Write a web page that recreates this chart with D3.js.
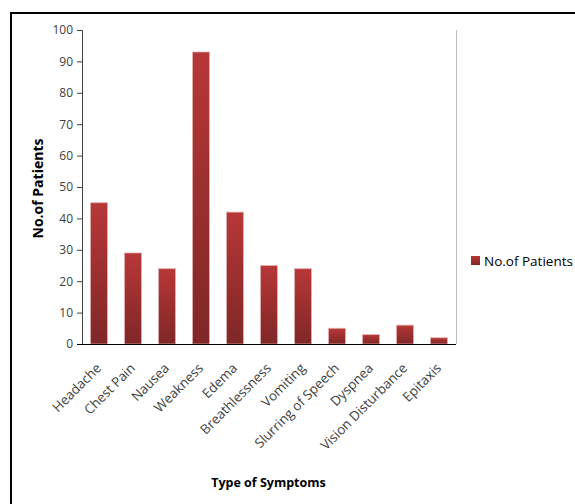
<!DOCTYPE html>
<html>
<head>
<meta charset="utf-8">
<script src="https://cdn.jsdelivr.net/npm/d3@7"></script>
<style>
  html, body { margin: 0; padding: 0; background: #fff; }
  svg { display: block; }
  text { font-family: "Open Sans", "Liberation Sans", sans-serif; }
</style>
</head>
<body>
<svg id="chart" width="575" height="504"></svg>
<script>
// Symptom counts
const categories = ["Headache", "Chest Pain", "Nausea", "Weakness", "Edema",
  "Breathlessness", "Vomiting", "Slurring of Speech", "Dyspnea",
  "Vision Disturbance", "Epitaxis"];
const patients = [45, 29, 24, 93, 42, 25, 24, 5, 3, 6, 2];
const yTicks = [0, 10, 20, 30, 40, 50, 60, 70, 80, 90, 100];
const seriesName = "No.of Patients";
const xTitle = "Type of Symptoms";
const yTitle = "No.of Patients";

const svg = d3.select("#chart");
const plot = { left: 82, right: 456, top: 30, bottom: 344 };

const x = d3.scaleBand()
  .domain(categories)
  .range([plot.left, plot.right])
  .paddingInner(0.5)
  .paddingOuter(0.25);

const y = d3.scaleLinear()
  .domain([0, 100])
  .range([plot.bottom, plot.top]);

// Vertical gradient for the bars
const defs = svg.append("defs");
const grad = defs.append("linearGradient")
  .attr("id", "barGrad")
  .attr("x1", 0).attr("y1", 0).attr("x2", 0).attr("y2", 1);
grad.append("stop").attr("offset", "0%").attr("stop-color", "#b83737");
grad.append("stop").attr("offset", "100%").attr("stop-color", "#7f2727");

// Outer frame
svg.append("path")
  .attr("d", "M11,506 L11,13 L577,13")
  .attr("fill", "none")
  .attr("stroke", "#000")
  .attr("stroke-width", 2);

// Right edge of the plot area
svg.append("line")
  .attr("x1", plot.right + 0.5).attr("x2", plot.right + 0.5)
  .attr("y1", plot.top).attr("y2", plot.bottom)
  .attr("stroke", "#bfbfbf").attr("stroke-width", 1);

// Bars
svg.append("g")
  .selectAll("rect")
  .data(categories)
  .join("rect")
  .attr("x", d => x(d))
  .attr("y", (d, i) => y(patients[i]))
  .attr("width", x.bandwidth())
  .attr("height", (d, i) => y(0) - y(patients[i]))
  .attr("fill", "url(#barGrad)")
  .attr("stroke", "#e7b3b3")
  .attr("stroke-opacity", 0.7)
  .attr("stroke-width", 1);

// Y axis
const yAxis = svg.append("g")
  .attr("transform", `translate(${plot.left},0)`)
  .call(d3.axisLeft(y).tickValues(yTicks).tickSize(5).tickPadding(4));
yAxis.select(".domain").attr("stroke", "#404040");
yAxis.selectAll(".tick line").attr("stroke", "#404040");
yAxis.selectAll(".tick text")
  .attr("fill", "#404040")
  .style("font-size", "12px")
  .style("font-family", "'Open Sans', sans-serif");

// X axis
const xAxis = svg.append("g")
  .attr("transform", `translate(0,${plot.bottom})`)
  .call(d3.axisBottom(x).tickSize(0).tickPadding(0));
xAxis.select(".domain")
  .attr("d", `M${plot.left - 5},0.5H${plot.right}`)
  .attr("stroke", "#000");
xAxis.selectAll(".tick text")
  .attr("fill", "#404040")
  .attr("text-anchor", "end")
  .attr("dy", 0)
  .attr("y", 0)
  .attr("transform", "translate(3,25) rotate(-45)")
  .style("font-size", "13.3px")
  .style("font-family", "'Open Sans', sans-serif");

// Axis titles
svg.append("text")
  .attr("transform", `translate(43,${(137 + 240) / 2}) rotate(-90)`)
  .attr("text-anchor", "middle")
  .attr("fill", "#000")
  .style("font-weight", "bold")
  .style("font-size", "14px")
  .text(yTitle);

svg.append("text")
  .attr("x", 268.5)
  .attr("y", 487)
  .attr("text-anchor", "middle")
  .attr("fill", "#000")
  .style("font-weight", "bold")
  .style("font-size", "12.5px")
  .text(xTitle);

// Legend
const legend = svg.append("g").attr("transform", "translate(471,256)");
legend.append("rect")
  .attr("width", 9).attr("height", 9)
  .attr("fill", "url(#barGrad)");
legend.append("text")
  .attr("x", 13)
  .attr("y", 10)
  .attr("fill", "#000")
  .style("font-size", "13.5px")
  .text(seriesName);
</script>
</body>
</html>
